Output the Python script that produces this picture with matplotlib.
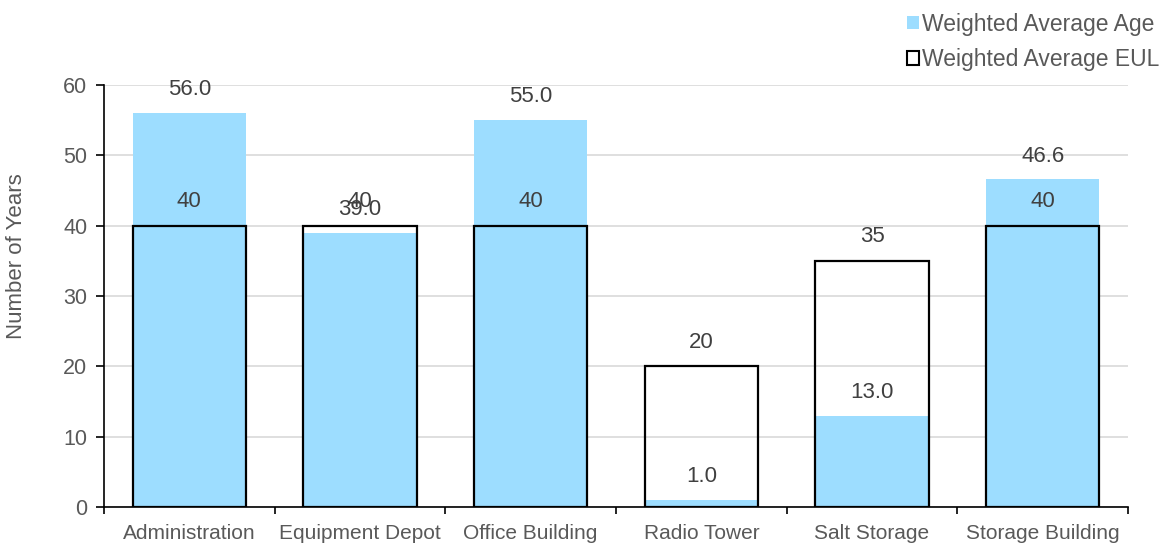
import numpy as np
import matplotlib
matplotlib.use('Agg')
import matplotlib.pyplot as plt
from matplotlib.patches import Patch

plt.rcParams['font.family'] = ['Liberation Sans', 'DejaVu Sans']

# Weighted average age vs. expected useful life per facility type
categories = ['Administration', 'Equipment Depot', 'Office Building',
              'Radio Tower', 'Salt Storage', 'Storage Building']
avg_age = [56.0, 39.0, 55.0, 1.0, 13.0, 46.6]
avg_eul = [40, 40, 40, 20, 35, 40]

age_color = '#9DDDFF'
text_color = '#595959'
label_color = '#404040'

fig = plt.figure(figsize=(11.72, 5.44), dpi=100)
ax = fig.add_axes([0.0887, 0.068, 0.8738, 0.7758])

x = np.arange(len(categories))
w = 0.665
ax.bar(x, avg_age, width=w, color=age_color, zorder=2)
ax.bar(x, avg_eul, width=w, facecolor='none', edgecolor='black',
       linewidth=1.6, zorder=3)

for xi, v in zip(x, avg_age):
    ax.text(xi, v + 3.3, '%.1f' % v, ha='center', va='center',
            fontsize=16, color=label_color, zorder=4)
for xi, v in zip(x, avg_eul):
    ax.text(xi, v + 3.4, '%d' % v, ha='center', va='center',
            fontsize=16, color=label_color, zorder=4)

ax.set_xlim(-0.5, len(categories) - 0.5)
ax.set_ylim(0, 60)
ax.set_yticks(np.arange(0, 61, 10))
ax.yaxis.grid(True, color='#D9D9D9', linewidth=1.2, zorder=0)
ax.set_axisbelow(True)

# category labels centred, tick marks on the boundaries
ax.set_xticks(x)
ax.set_xticklabels(categories)
ax.set_xticks(np.arange(-0.5, len(categories)), minor=True)
ax.tick_params(axis='x', which='major', length=0, pad=12,
               labelsize=15, labelcolor=text_color)
ax.tick_params(axis='x', which='minor', length=5, width=1.2, color='black')
ax.tick_params(axis='y', length=6, width=1.2, color='black', pad=6,
               labelsize=15.5, labelcolor=text_color)

for s in ['top', 'right']:
    ax.spines[s].set_visible(False)
ax.spines['left'].set_linewidth(1.2)
ax.spines['bottom'].set_linewidth(1.2)

ax.set_ylabel('Number of Years', fontsize=16, color=text_color)
ax.yaxis.set_label_coords(-0.075, 0.595)

handles = [Patch(facecolor=age_color, edgecolor='none'),
           Patch(facecolor='white', edgecolor='black', linewidth=1.5)]
fig.legend(handles, ['Weighted Average Age', 'Weighted Average EUL'],
           loc='upper right', bbox_to_anchor=(1.0, 1.0), frameon=False,
           fontsize=16.5, labelcolor=text_color, handlelength=0.55,
           handleheight=0.55, handletextpad=0.12, labelspacing=0.55,
           borderaxespad=0.15)

fig.savefig('out.png', dpi=100)
